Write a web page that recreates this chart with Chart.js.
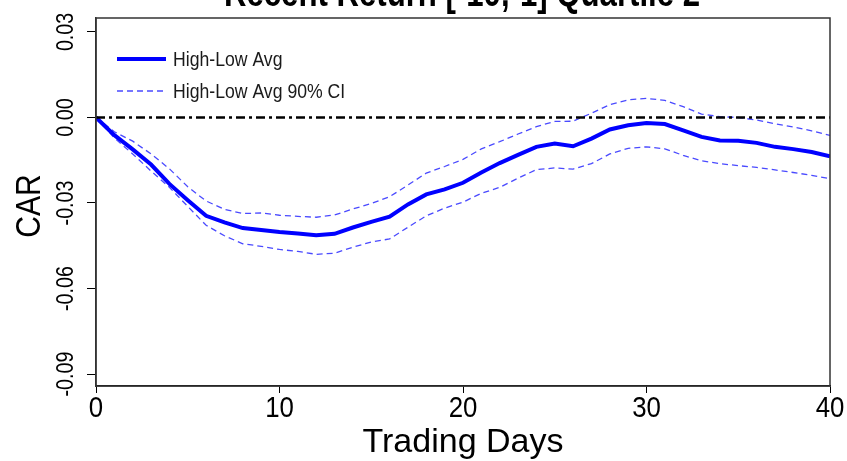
<!DOCTYPE html>
<html><head><meta charset="utf-8">
<script src="https://cdn.jsdelivr.net/npm/chart.js@4/dist/chart.umd.min.js"></script>
<style>html,body{margin:0;padding:0;background:#fff;}#wrap{width:847px;height:461px;}</style>
</head><body><div id="wrap"><canvas id="c" width="847" height="461"></canvas></div>
<script>
const days = [0,1,2,3,4,5,6,7,8,9,10,11,12,13,14,15,16,17,18,19,20,21,22,23,24,25,26,27,28,29,30,31,32,33,34,35,36,37,38,39,40];
const avg = [0,-0.0062,-0.0112,-0.0165,-0.0233,-0.0290,-0.0345,-0.0368,-0.0388,-0.0395,-0.0402,-0.0407,-0.0413,-0.0408,-0.0386,-0.0366,-0.0348,-0.0305,-0.0270,-0.0252,-0.0229,-0.0193,-0.0160,-0.0131,-0.0103,-0.0091,-0.0101,-0.0074,-0.0042,-0.0027,-0.0019,-0.0023,-0.0045,-0.0068,-0.0081,-0.0082,-0.0089,-0.0103,-0.0111,-0.0121,-0.0136];
const ciUpper = [0,-0.0050,-0.0083,-0.0128,-0.0180,-0.0243,-0.0293,-0.0322,-0.0337,-0.0335,-0.0343,-0.0347,-0.0350,-0.0342,-0.0321,-0.0302,-0.0278,-0.0237,-0.0195,-0.0172,-0.0147,-0.0110,-0.0085,-0.0058,-0.0032,-0.0014,-0.0013,0.0015,0.0045,0.0062,0.0067,0.0060,0.0038,0.0012,0.0003,0.0000,-0.0009,-0.0022,-0.0033,-0.0047,-0.0063];
const ciLower = [0,-0.0072,-0.0128,-0.0188,-0.0245,-0.0312,-0.0378,-0.0415,-0.0443,-0.0452,-0.0463,-0.0470,-0.0480,-0.0476,-0.0455,-0.0437,-0.0426,-0.0385,-0.0345,-0.0318,-0.0297,-0.0266,-0.0245,-0.0213,-0.0183,-0.0177,-0.0181,-0.0162,-0.0128,-0.0108,-0.0103,-0.0110,-0.0133,-0.0152,-0.0162,-0.0169,-0.0175,-0.0184,-0.0193,-0.0203,-0.0215];
const zeroDays = [0, 40];
const zeroVals = [0, 0];
const xTickValues = [0, 10, 20, 30, 40];
const xTickLabels = ['0', '10', '20', '30', '40'];
const yTickValues = [-0.09, -0.06, -0.03, 0, 0.03];
const yTickLabels = ['-0.09', '-0.06', '-0.03', '0.00', '0.03'];
const titleText = 'Recent Return [-10,-1] Quartile 2';
const legendLabels = ['High-Low Avg', 'High-Low Avg 90% CI'];
const xTitle = 'Trading Days';
const yTitle = 'CAR';

const FONT = "'Liberation Sans', Arial, sans-serif";

const pts = (xs, ys) => xs.map((x, i) => ({x: x, y: ys[i]}));

function txt(ctx, s, x, y, font, sx, rot, align, baseline, color) {
  ctx.save();
  ctx.translate(x, y);
  if (rot) ctx.rotate(rot);
  ctx.scale(sx, 1);
  ctx.font = font; ctx.fillStyle = color || '#000';
  ctx.textAlign = align || 'center'; ctx.textBaseline = baseline || 'middle';
  ctx.fillText(s, 0, 0);
  ctx.restore();
}

const custom = {
  id: 'custom',
  beforeDraw(chart) {
    const ctx = chart.ctx;
    ctx.save(); ctx.fillStyle = '#fff'; ctx.fillRect(0, 0, chart.width, chart.height); ctx.restore();
  },
  afterDraw(chart) {
    const ctx = chart.ctx, a = chart.chartArea, ys = chart.scales.y, xs = chart.scales.x;
    ctx.save();
    ctx.strokeStyle = '#333'; ctx.lineWidth = 1.5;
    ctx.strokeRect(a.left, a.top, a.right - a.left, a.bottom - a.top);
    ctx.restore();
    // y tick labels (rotated)
    yTickValues.forEach((v, i) => {
      txt(ctx, yTickLabels[i], 66, ys.getPixelForValue(v), "24px " + FONT, 0.82, -Math.PI / 2, 'center', 'middle');
    });
    // x tick labels
    xTickValues.forEach((v, i) => {
      txt(ctx, xTickLabels[i], xs.getPixelForValue(v), 409, "30px " + FONT, 0.86, 0, 'center', 'middle');
    });
    // y title
    txt(ctx, yTitle, 30, 206, "35px " + FONT, 0.86, -Math.PI / 2, 'center', 'middle');
    // legend
    const ds = chart.data.datasets;
    const rows = [{d: ds[1], y: 59, label: legendLabels[0]}, {d: ds[2], y: 91, label: legendLabels[1]}];
    rows.forEach(r => {
      ctx.save();
      ctx.strokeStyle = r.d.borderColor; ctx.lineWidth = r.d.borderWidth;
      ctx.setLineDash(r.d.borderDash || []);
      ctx.beginPath(); ctx.moveTo(117, r.y); ctx.lineTo(166, r.y); ctx.stroke();
      ctx.restore();
      txt(ctx, r.label, 173, r.y + 1, "21px " + FONT, 0.84, 0, 'left', 'middle', '#1a1a1a');
    });
    // title (mostly clipped at top)
    txt(ctx, titleText, 462, 6, "bold 38px " + FONT, 0.82, 0, 'center', 'alphabetic');
  }
};

new Chart(document.getElementById('c'), {
  type: 'line',
  data: {
    datasets: [
      {label: 'zero', data: pts(zeroDays, zeroVals), borderColor: '#000', borderWidth: 2.3, borderDash: [9, 4, 3, 4], pointRadius: 0, fill: false},
      {label: legendLabels[0], data: pts(days, avg), borderColor: '#0000ff', borderWidth: 4, pointRadius: 0, fill: false, tension: 0},
      {label: legendLabels[1], data: pts(days, ciUpper), borderColor: '#4a4aff', borderWidth: 1.3, borderDash: [6, 4], pointRadius: 0, fill: false, tension: 0},
      {label: legendLabels[1] + ' lower', data: pts(days, ciLower), borderColor: '#4a4aff', borderWidth: 1.3, borderDash: [6, 4], pointRadius: 0, fill: false, tension: 0}
    ]
  },
  options: {
    responsive: false, animation: false, devicePixelRatio: 1,
    layout: {padding: {left: 0, right: 17, top: 18, bottom: 0}},
    plugins: {legend: {display: false}, title: {display: false}, tooltip: {enabled: false}},
    scales: {
      x: {
        type: 'linear', min: 0, max: 40,
        afterBuildTicks: s => { s.ticks = xTickValues.map(v => ({value: v})); },
        afterFit: s => { s.height = 75; },
        grid: {display: true, drawOnChartArea: false, drawTicks: true, tickLength: 7, color: '#000', lineWidth: 1},
        border: {display: true, color: '#000', width: 1.5},
        ticks: {color: 'rgba(0,0,0,0)', font: {family: FONT, size: 26, lineHeight: 1}, padding: 1, maxRotation: 0, autoSkip: false},
        title: {display: true, text: xTitle, color: '#000', font: {family: FONT, size: 34, lineHeight: 1}, padding: {top: 0, bottom: 1}}
      },
      y: {
        type: 'linear', min: -0.0942, max: 0.0349,
        afterBuildTicks: s => { s.ticks = yTickValues.map(v => ({value: v})); },
        afterFit: s => { s.width = 96; },
        grid: {display: true, drawOnChartArea: false, drawTicks: true, tickLength: 9, color: '#000', lineWidth: 1},
        border: {display: true, color: '#333', width: 1.5},
        ticks: {color: 'rgba(0,0,0,0)', font: {family: FONT, size: 20}, padding: 2, autoSkip: false},
        title: {display: false}
      }
    }
  },
  plugins: [custom]
});
</script></body></html>
